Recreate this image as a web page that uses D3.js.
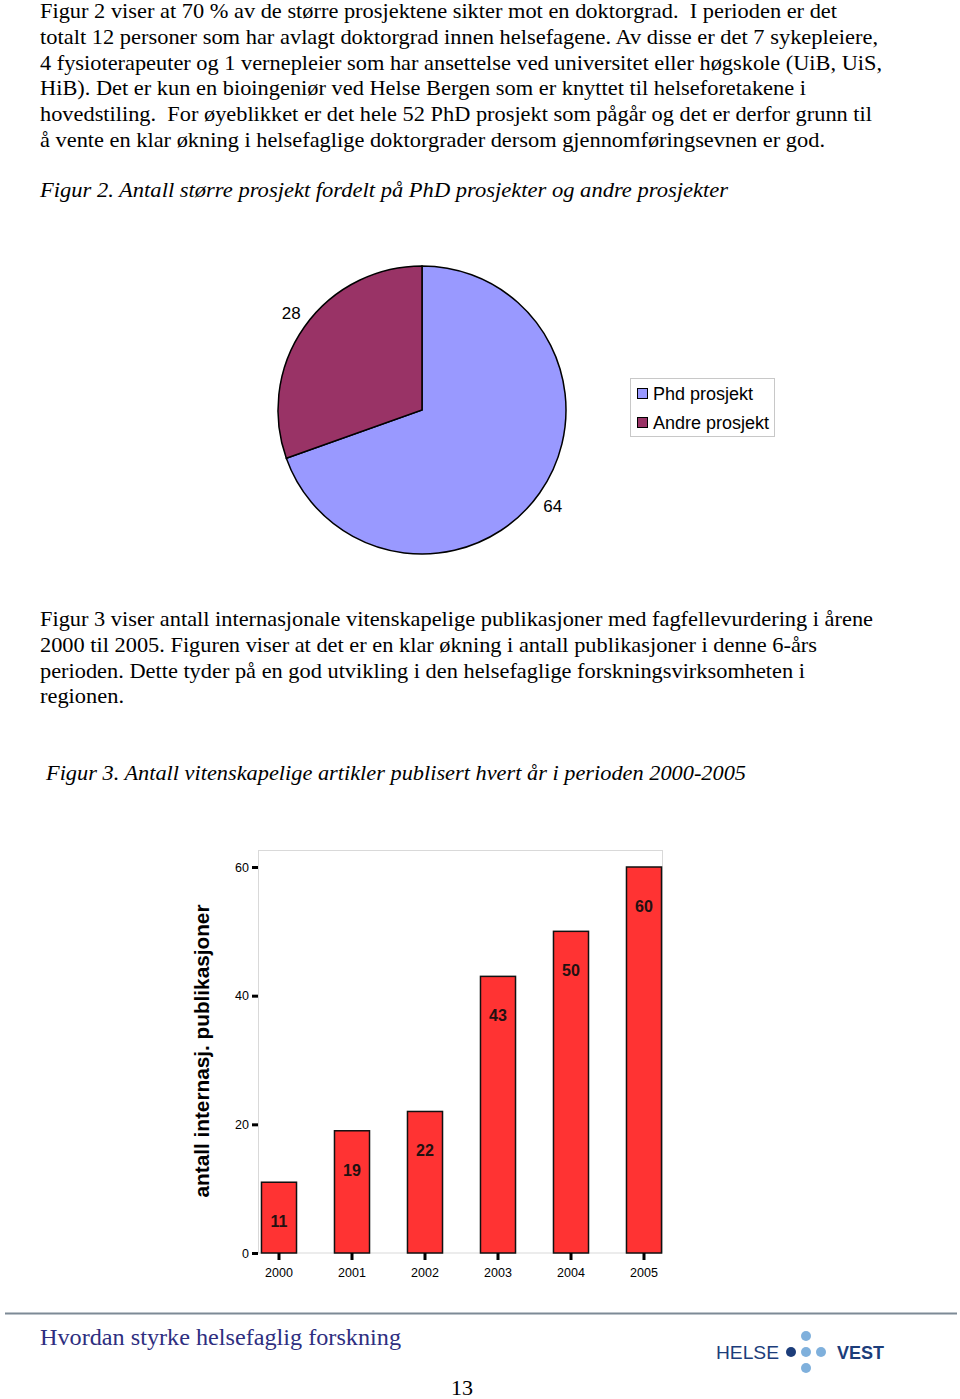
<!DOCTYPE html>
<html><head><meta charset="utf-8">
<script src="https://cdn.jsdelivr.net/npm/d3@7"></script>
<style>body{margin:0;background:#fff}svg{display:block}</style>
</head><body>
<script>
// ---- data ----
const pieCategories = ["Phd prosjekt", "Andre prosjekt"];
const pieValues = [64, 28];
const barYears = ["2000", "2001", "2002", "2003", "2004", "2005"];
const barValues = [11, 19, 22, 43, 50, 60];
const yTicks = [0, 20, 40, 60];

const para1 = [
 ["Figur 2 viser at 70 % av de større prosjektene sikter mot en doktorgrad.  I perioden er det", 797],
 ["totalt 12 personer som har avlagt doktorgrad innen helsefagene. Av disse er det 7 sykepleiere,", 838],
 ["4 fysioterapeuter og 1 vernepleier som har ansettelse ved universitet eller høgskole (UiB, UiS,", 842],
 ["HiB). Det er kun en bioingeniør ved Helse Bergen som er knyttet til helseforetakene i", 766],
 ["hovedstiling.  For øyeblikket er det hele 52 PhD prosjekt som pågår og det er derfor grunn til", 832],
 ["å vente en klar økning i helsefaglige doktorgrader dersom gjennomføringsevnen er god.", 785]
];
const para2 = [
 ["Figur 3 viser antall internasjonale vitenskapelige publikasjoner med fagfellevurdering i årene", 833],
 ["2000 til 2005. Figuren viser at det er en klar økning i antall publikasjoner i denne 6-års", 777],
 ["perioden. Dette tyder på en god utvikling i den helsefaglige forskningsvirksomheten i", 765],
 ["regionen.", 84]
];

const svg = d3.select("body").append("svg").attr("width", 960).attr("height", 1399);
const serif = "'Liberation Serif','Times New Roman',serif";
const sans = "'Liberation Sans',Arial,sans-serif";

function para(lines, y0, lh) {
  lines.forEach((l, i) => {
    svg.append("text").attr("x", 40).attr("y", y0 + i * lh)
      .attr("font-family", serif).attr("font-size", 21).attr("fill", "#000")
      .attr("textLength", l[1]).attr("lengthAdjust", "spacingAndGlyphs")
      .attr("xml:space", "preserve").text(l[0]);
  });
}
para(para1, 18, 25.8);
svg.append("text").attr("x", 40).attr("y", 197).attr("font-family", serif).attr("font-size", 21)
  .attr("font-style", "italic").attr("textLength", 688).attr("lengthAdjust", "spacingAndGlyphs")
  .text("Figur 2. Antall større prosjekt fordelt på PhD prosjekter og andre prosjekter");
para(para2, 626, 25.8);
svg.append("text").attr("x", 46).attr("y", 780).attr("font-family", serif).attr("font-size", 21)
  .attr("font-style", "italic").attr("textLength", 700).attr("lengthAdjust", "spacingAndGlyphs")
  .text("Figur 3. Antall vitenskapelige artikler publisert hvert år i perioden 2000-2005");

// ---- pie ----
const pieColors = d3.scaleOrdinal().domain(pieCategories).range(["#9999FF", "#993366"]);
const pieData = pieCategories.map((c, i) => ({cat: c, value: pieValues[i]}));
const arcs = d3.pie().sort(null).value(d => d.value)(pieData);
const arc = d3.arc().innerRadius(0).outerRadius(144);
const labelArc = d3.arc().innerRadius(160).outerRadius(160);
const pg = svg.append("g").attr("transform", "translate(422,410)");
pg.selectAll("path").data(arcs).join("path").attr("d", arc)
  .attr("fill", d => pieColors(d.data.cat)).attr("stroke", "#000").attr("stroke-width", 1.5);
pg.selectAll("text").data(arcs).join("text")
  .attr("transform", d => `translate(${labelArc.centroid(d)})`)
  .attr("text-anchor", "middle").attr("dy", d => labelArc.centroid(d)[1] > 0 ? "0.55em" : "0.1em")
  .attr("font-family", sans).attr("font-size", 17).text(d => d.data.value);

// legend
const lg = svg.append("g");
lg.append("rect").attr("x", 630.5).attr("y", 378.5).attr("width", 144).attr("height", 58)
  .attr("fill", "#fff").attr("stroke", "#c8c8c8");
pieCategories.forEach((c, i) => {
  lg.append("rect").attr("x", 637.5).attr("y", 388.5 + i * 29).attr("width", 10).attr("height", 10)
    .attr("fill", pieColors(c)).attr("stroke", "#000").attr("stroke-width", 1);
  lg.append("text").attr("x", 653).attr("y", 400 + i * 29).attr("font-family", sans)
    .attr("font-size", 18).text(c);
});

// ---- bar chart ----
const x = d3.scaleBand().domain(barYears).range([242.5, 680.5]).paddingInner(0.52).paddingOuter(0.26);
const y = d3.scaleLinear().domain([0, 60]).range([1253, 867]);
svg.append("rect").attr("x", 258.5).attr("y", 850.5).attr("width", 404).attr("height", 402.5)
  .attr("fill", "none").attr("stroke", "#d9d9d9");
svg.selectAll(".bar").data(barValues).join("rect").attr("class", "bar")
  .attr("x", (d, i) => x(barYears[i])).attr("y", d => y(d))
  .attr("width", x.bandwidth()).attr("height", d => y(0) - y(d))
  .attr("fill", "#FF3333").attr("stroke", "#111").attr("stroke-width", 1.5);
svg.selectAll(".vl").data(barValues).join("text").attr("class", "vl")
  .attr("x", (d, i) => x(barYears[i]) + x.bandwidth() / 2).attr("y", d => y(d) + 45)
  .attr("text-anchor", "middle").attr("font-family", sans).attr("font-weight", "bold")
  .attr("font-size", 16).attr("fill", "#221111").text(d => d);

const yAxis = svg.append("g").attr("transform", "translate(258,0)")
  .call(d3.axisLeft(y).tickValues(yTicks).tickSize(6).tickPadding(3).tickFormat(d3.format("d")));
yAxis.select(".domain").remove();
yAxis.selectAll("line").attr("stroke", "#000").attr("stroke-width", 3);
yAxis.selectAll("text").attr("font-family", sans).attr("font-size", 12.5).attr("fill", "#000");

const xAxis = svg.append("g").attr("transform", "translate(0,1253)")
  .call(d3.axisBottom(x).tickSize(7).tickPadding(8));
xAxis.select(".domain").remove();
xAxis.selectAll("line").attr("stroke", "#000").attr("stroke-width", 3);
xAxis.selectAll("text").attr("font-family", sans).attr("font-size", 12.5).attr("fill", "#000");

svg.append("text").attr("transform", "translate(209,1051) rotate(-90)").attr("text-anchor", "middle")
  .attr("font-family", sans).attr("font-weight", "bold").attr("font-size", 21)
  .attr("textLength", 293).attr("lengthAdjust", "spacingAndGlyphs")
  .text("antall internasj. publikasjoner");

// ---- footer ----
svg.append("line").attr("x1", 5).attr("x2", 957).attr("y1", 1313.5).attr("y2", 1313.5)
  .attr("stroke", "#7d8a96").attr("stroke-width", 2);
svg.append("text").attr("x", 40).attr("y", 1345).attr("font-family", serif).attr("font-size", 24)
  .attr("fill", "#2e2e80").attr("textLength", 361).attr("lengthAdjust", "spacingAndGlyphs")
  .text("Hvordan styrke helsefaglig forskning");
svg.append("text").attr("x", 462).attr("y", 1395).attr("text-anchor", "middle")
  .attr("font-family", serif).attr("font-size", 22).text("13");
svg.append("text").attr("x", 716).attr("y", 1359).attr("font-family", sans).attr("font-size", 18)
  .attr("fill", "#1c3d7a").attr("textLength", 63).attr("lengthAdjust", "spacingAndGlyphs").text("HELSE");
svg.append("text").attr("x", 837).attr("y", 1359).attr("font-family", sans).attr("font-size", 18)
  .attr("font-weight", "bold").attr("fill", "#1c3d7a").attr("textLength", 47)
  .attr("lengthAdjust", "spacingAndGlyphs").text("VEST");
const dots = [[791, 1352, "#1c3d7a"], [806, 1352, "#7fb0dc"], [821, 1352, "#7fb0dc"], [806, 1336, "#7fb0dc"], [806, 1368, "#7fb0dc"]];
svg.selectAll(".dot").data(dots).join("circle").attr("class", "dot")
  .attr("cx", d => d[0]).attr("cy", d => d[1]).attr("r", 5).attr("fill", d => d[2]);
</script>
</body></html>
